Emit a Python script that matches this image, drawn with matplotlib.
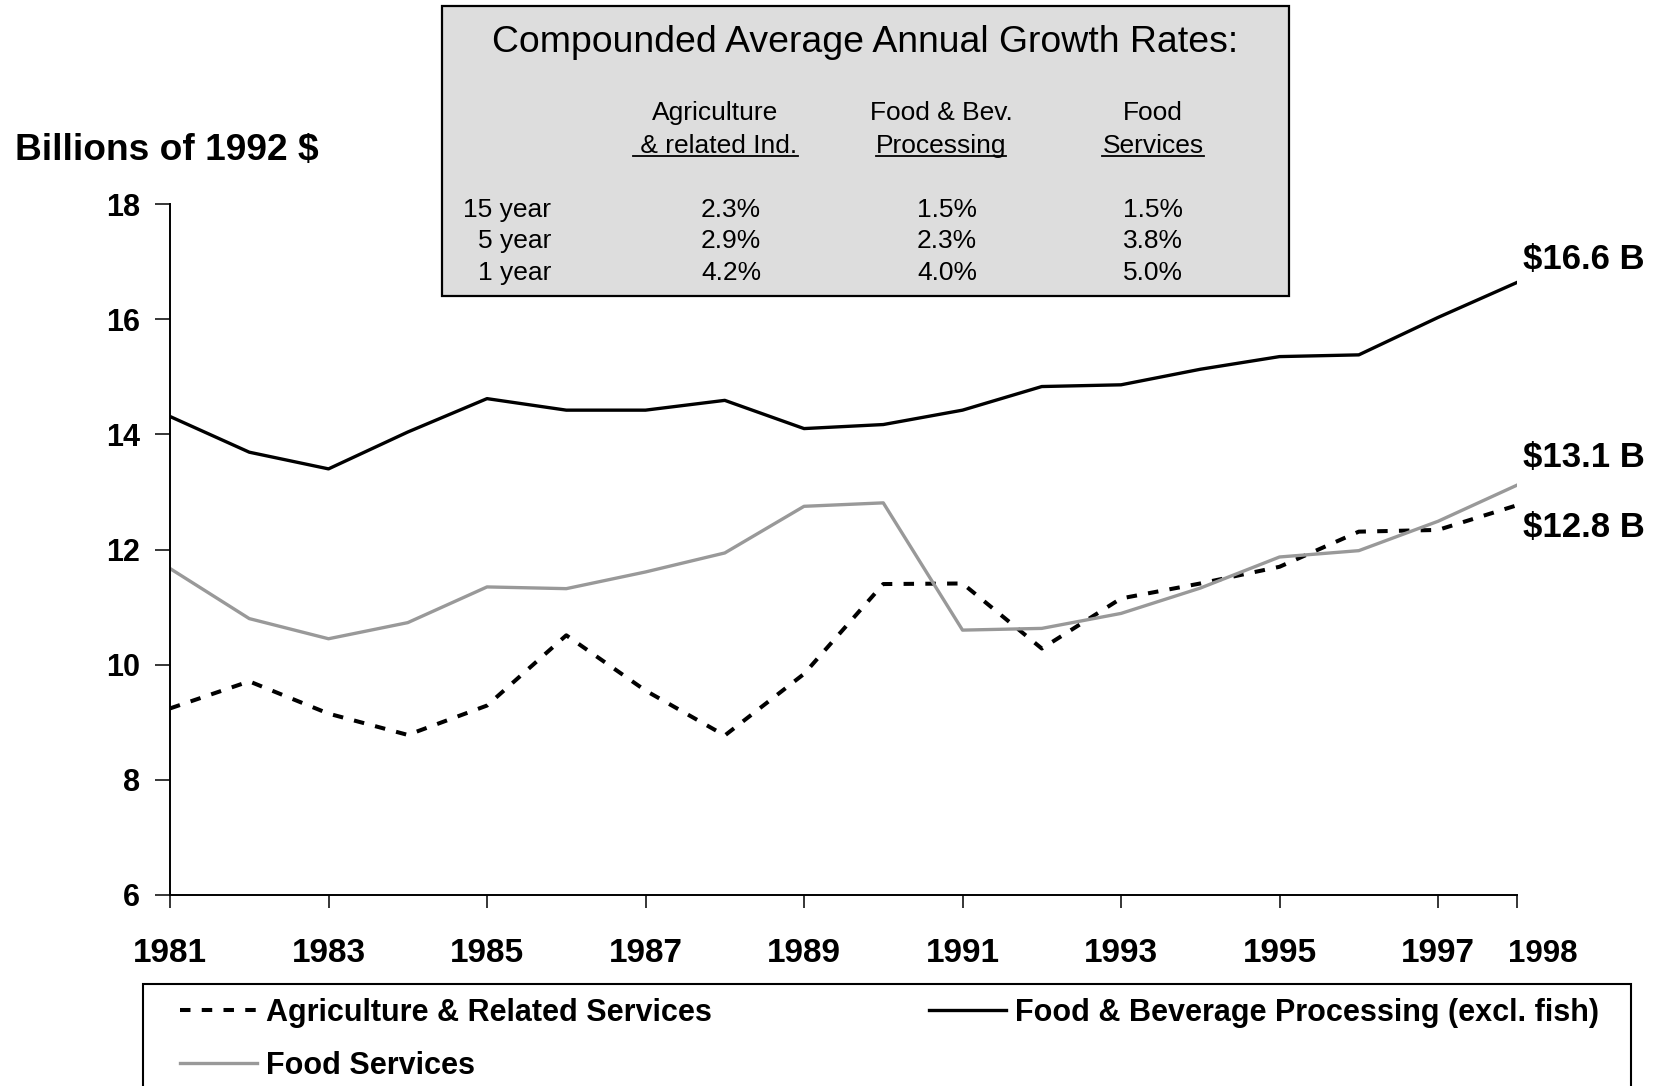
import matplotlib
matplotlib.use("Agg")
import matplotlib.pyplot as plt
from matplotlib.patches import Rectangle
from matplotlib.lines import Line2D
from matplotlib.transforms import IdentityTransform, ScaledTranslation

plt.rcParams['font.family'] = ['Liberation Sans', 'DejaVu Sans']

# ---------------------------------------------------------------------------- #
# Data (billions of 1992 $)
years = list(range(1981, 1999))
agri = [9.24, 9.71, 9.15, 8.78, 9.29, 10.51, 9.55, 8.77, 9.84, 11.40,
        11.41, 10.28, 11.15, 11.41, 11.70, 12.31, 12.34, 12.77]
food_proc = [14.31, 13.69, 13.40, 14.04, 14.62, 14.42, 14.42, 14.59, 14.10, 14.17,
             14.42, 14.83, 14.86, 15.13, 15.35, 15.38, 16.03, 16.64]
food_serv = [11.67, 10.80, 10.45, 10.73, 11.35, 11.32, 11.61, 11.94, 12.75, 12.81,
             10.60, 10.63, 10.89, 11.33, 11.87, 11.98, 12.49, 13.12]

tick_years = [1981, 1983, 1985, 1987, 1989, 1991, 1993, 1995, 1997, 1998]
y_ticks = [6, 8, 10, 12, 14, 16, 18]

# growth rate box
box_title = "Compounded Average Annual Growth Rates:"
header_top = ["Agriculture", "Food & Bev.", "Food"]
header_bottom = [" & related Ind.", "Processing", "Services"]
periods = ["15 year", "5 year", "1 year"]
rates = [[2.3, 1.5, 1.5],
         [2.9, 2.3, 3.8],
         [4.2, 4.0, 5.0]]

# ---------------------------------------------------------------------------- #
W, H = 1661, 1086
fig = plt.figure(figsize=(W / 100, H / 100), dpi=100)


def fx(x):
    return x / W


def fy(y):
    return 1 - y / H


ax = fig.add_axes([fx(170), fy(895), fx(1517.3) - fx(170), fy(204) - fy(895)])

h_agri, = ax.plot(years, agri, color='black', lw=2.9, dashes=(2.6, 2.8),
                  label='Agriculture & Related Services')
h_serv, = ax.plot(years, food_serv, color='#999999', lw=2.4, label='Food Services')
h_proc, = ax.plot(years, food_proc, color='black', lw=2.4,
                  label='Food & Beverage Processing (excl. fish)')

ax.set_xlim(1981, 1998)
ax.set_ylim(6, 18)
for s in ['top', 'right']:
    ax.spines[s].set_visible(False)
for s in ['left', 'bottom']:
    ax.spines[s].set_linewidth(1.4)

ax.set_yticks(y_ticks)
ax.set_yticklabels([str(v) for v in y_ticks], fontsize=22, fontweight='bold')
ax.tick_params(axis='y', length=10.5, width=1.1, pad=11)

ax.set_xticks(tick_years)
ax.set_xticklabels([str(v) for v in tick_years], fontsize=24, fontweight='bold')
ax.tick_params(axis='x', length=9.4, width=1.1, pad=38.9)
for lab in ax.get_xticklabels():
    lab.set_verticalalignment('baseline')
# last year label is smaller and sits to the right of its tick
last = ax.get_xticklabels()[-1]
last.set_fontsize(22.5)
last.set_horizontalalignment('left')
last.set_transform(last.get_transform() + ScaledTranslation(-9 / 100, 0, fig.dpi_scale_trans))

# end-of-line value labels
ax.annotate(f"${food_proc[-1]:.1f} B", xy=(years[-1], food_proc[-1]), xytext=(6, 13),
            textcoords='offset pixels', fontsize=25, fontweight='bold',
            va='baseline', ha='left', annotation_clip=False)
ax.annotate(f"${food_serv[-1]:.1f} B", xy=(years[-1], food_serv[-1]), xytext=(6, 18),
            textcoords='offset pixels', fontsize=25, fontweight='bold',
            va='baseline', ha='left', annotation_clip=False)
ax.annotate(f"${agri[-1]:.1f} B", xy=(years[-1], agri[-1]), xytext=(6, -32),
            textcoords='offset pixels', fontsize=25, fontweight='bold',
            va='baseline', ha='left', annotation_clip=False)

fig.text(fx(15), fy(160), "Billions of 1992 $", fontsize=26.7, fontweight='bold',
         ha='left', va='baseline')

# growth rate box
fig.patches.append(Rectangle((fx(442), fy(296)), fx(1289) - fx(442), fy(6) - fy(296),
                             transform=fig.transFigure, facecolor='#dddddd',
                             edgecolor='black', lw=1.6, zorder=5))
fig.text(fx(865.5), fy(51.7), box_title, fontsize=26.9, ha='center', va='baseline', zorder=6)

head_x = [715.5, 941, 1153]
rate_x = [731, 947, 1153]
under = []
for i in range(3):
    fig.text(fx(head_x[i]), fy(120), header_top[i], fontsize=19, ha='center',
             va='baseline', zorder=6)
    t = fig.text(fx(head_x[i]), fy(153.3), header_bottom[i], fontsize=19, ha='center',
                 va='baseline', zorder=6)
    under.append(t)

row_y = [216.7, 248.3, 280]
for r in range(3):
    fig.text(fx(551), fy(row_y[r]), periods[r], fontsize=19, ha='right',
             va='baseline', zorder=6)
    for c in range(3):
        fig.text(fx(rate_x[c]), fy(row_y[r]), f"{rates[r][c]:.1f}%", fontsize=19,
                 ha='center', va='baseline', zorder=6)

# legend
leg = ax.legend(handles=[h_agri, h_serv, h_proc], loc='upper left',
                bbox_to_anchor=(fx(180), fy(998)), bbox_transform=fig.transFigure,
                ncol=2, frameon=False, prop=dict(weight='bold', size=22),
                handlelength=2.52, handletextpad=0.3, columnspacing=7.1,
                labelspacing=0.74, borderpad=0, borderaxespad=0)

fig.patches.append(Rectangle((fx(143.3), -0.05), fx(1630.7) - fx(143.3), fy(984) + 0.05,
                             transform=fig.transFigure, facecolor='none',
                             edgecolor='black', lw=1.5, clip_on=False))

# underline the second header line
fig.canvas.draw()
for t in under:
    bb = t.get_window_extent()
    fig.add_artist(Line2D([bb.x0, bb.x1], [H - 156, H - 156], transform=IdentityTransform(),
                          color='black', lw=1.3, zorder=7))

fig.savefig('out.png', dpi=100)
